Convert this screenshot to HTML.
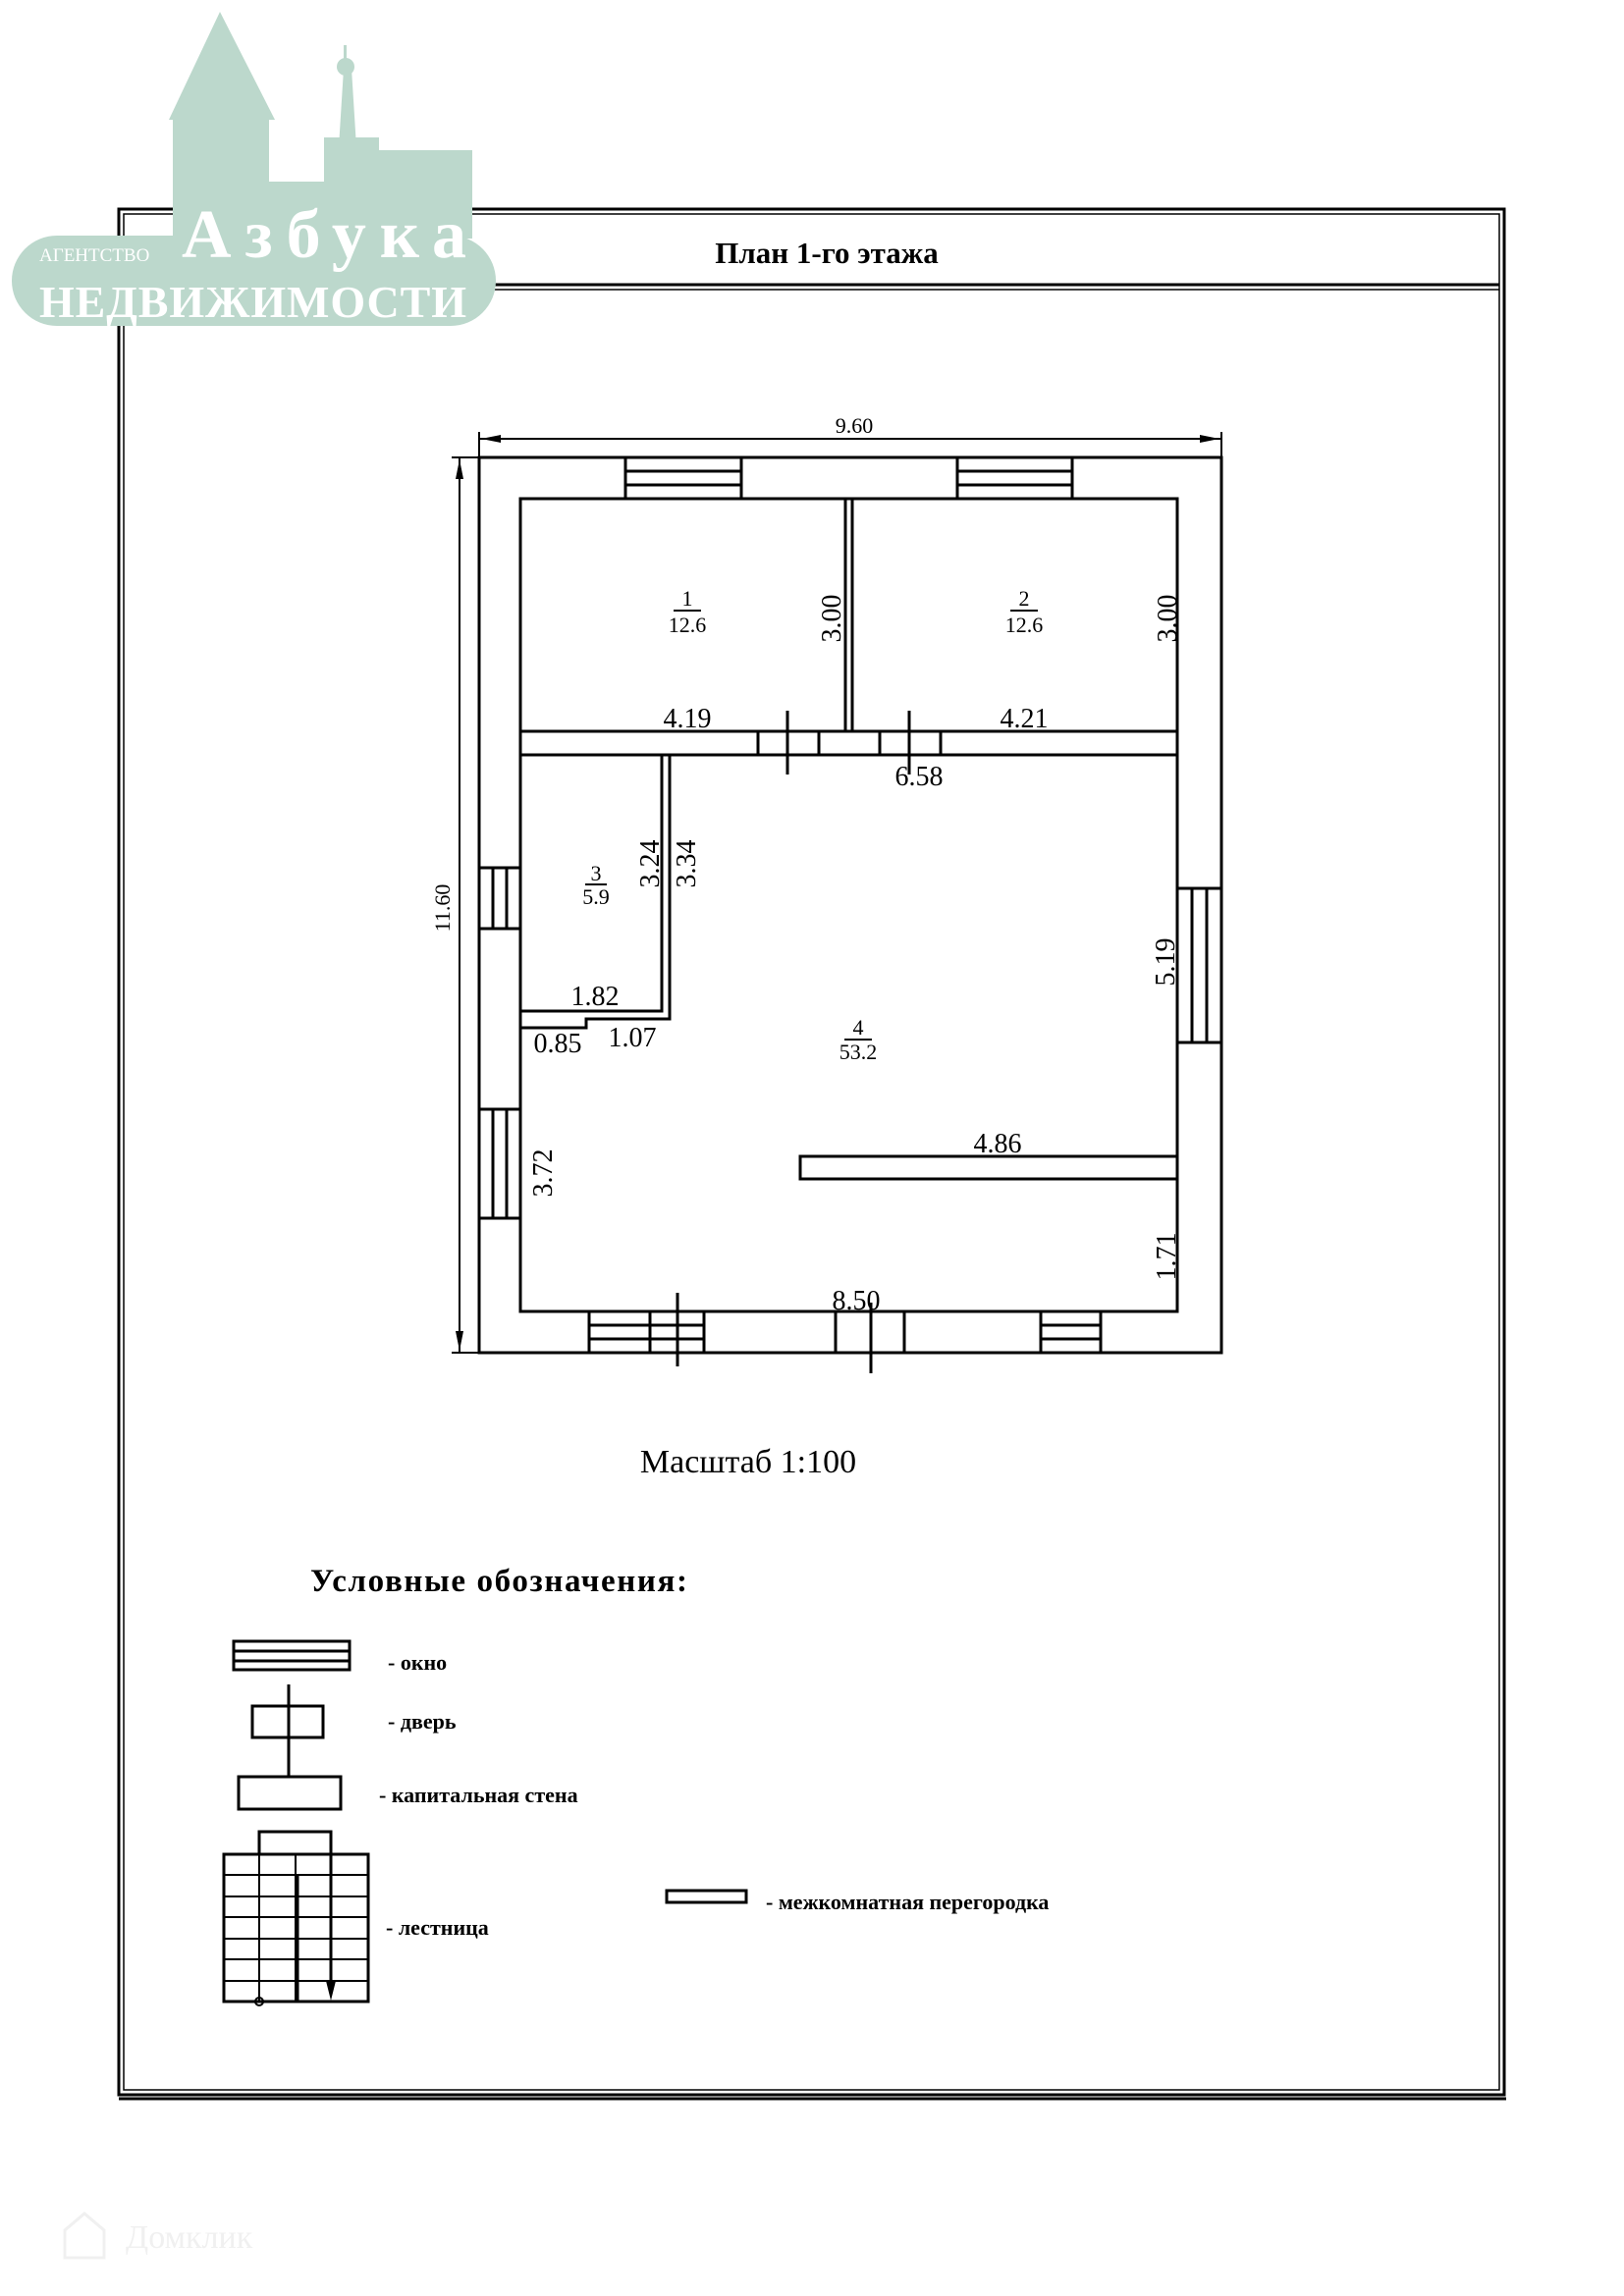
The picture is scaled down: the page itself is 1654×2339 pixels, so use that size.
<!DOCTYPE html>
<html><head><meta charset="utf-8"><style>
html,body{margin:0;padding:0;background:#fff;}
svg{display:block;}
text{font-family:"Liberation Serif",serif;fill:#000;}
</style></head><body>
<svg width="1654" height="2339" viewBox="0 0 1654 2339" xmlns="http://www.w3.org/2000/svg">
<rect width="1654" height="2339" fill="#fff"/>
<g fill="none" stroke="#000">
<rect x="121" y="213" width="1411" height="1921" stroke-width="3"/>
<rect x="126" y="218" width="1401" height="1911" stroke-width="1.5"/>
<line x1="126" y1="290" x2="1527" y2="290" stroke-width="3"/>
<line x1="126" y1="295" x2="1527" y2="295" stroke-width="1.5"/>
<line x1="121" y1="2138" x2="1534" y2="2138" stroke-width="3"/>
</g>
<g fill="#bcd8cc">
<rect x="12" y="240" width="493" height="92" rx="46"/>
<polygon points="224,12 172,122 280,122"/>
<rect x="176" y="118" width="98" height="125"/>
<rect x="270" y="185" width="120" height="58"/>
<polygon points="345,150 350,70 358,70 363,150"/>
<circle cx="352" cy="68" r="9"/>
<rect x="350" y="46" width="3" height="16"/>
<rect x="330" y="140" width="56" height="60"/>
<rect x="385" y="153" width="96" height="90"/>
</g>
<text x="40" y="266" font-family="Liberation Sans,sans-serif" font-size="19" style="fill:#fff">АГЕНТСТВО</text>
<text x="185" y="262" font-size="70" font-weight="bold" style="fill:#fff" textLength="290">Азбука</text>
<text x="40" y="323" font-size="46" font-weight="bold" style="fill:#fff" textLength="435">НЕДВИЖИМОСТИ</text>

<text x="842" y="268" font-size="31" font-weight="bold" text-anchor="middle">План 1-го этажа</text>

<g fill="none" stroke="#000" stroke-width="3">
<rect x="488" y="466" width="756" height="912"/>
<rect x="530" y="508" width="669" height="828"/>
<line x1="530" y1="745" x2="1199" y2="745"/>
<line x1="530" y1="769" x2="1199" y2="769"/>
<line x1="772" y1="745" x2="772" y2="769"/>
<line x1="834" y1="745" x2="834" y2="769"/>
<line x1="896" y1="745" x2="896" y2="769"/>
<line x1="958" y1="745" x2="958" y2="769"/>
<line x1="802" y1="724" x2="802" y2="789"/>
<line x1="926" y1="724" x2="926" y2="789"/>
<line x1="861" y1="508" x2="861" y2="745"/>
<line x1="868" y1="508" x2="868" y2="745"/>
<polyline points="674,769 674,1030 530,1030"/>
<polyline points="682,769 682,1038 597,1038 597,1047 530,1047"/>
<rect x="815" y="1178" width="384" height="23"/>
<rect x="637" y="466" width="118" height="42"/>
<line x1="637" y1="480" x2="755" y2="480"/><line x1="637" y1="494" x2="755" y2="494"/>
<rect x="975" y="466" width="117" height="42"/>
<line x1="975" y1="480" x2="1092" y2="480"/><line x1="975" y1="494" x2="1092" y2="494"/>
<rect x="488" y="884" width="42" height="62"/>
<line x1="502" y1="884" x2="502" y2="946"/><line x1="516" y1="884" x2="516" y2="946"/>
<rect x="488" y="1130" width="42" height="111"/>
<line x1="502" y1="1130" x2="502" y2="1241"/><line x1="516" y1="1130" x2="516" y2="1241"/>
<rect x="1199" y="905" width="45" height="157"/>
<line x1="1214" y1="905" x2="1214" y2="1062"/><line x1="1229" y1="905" x2="1229" y2="1062"/>
<rect x="600" y="1336" width="117" height="42"/>
<line x1="600" y1="1350" x2="717" y2="1350"/><line x1="600" y1="1364" x2="717" y2="1364"/>
<line x1="662" y1="1336" x2="662" y2="1378"/>
<line x1="690" y1="1317" x2="690" y2="1392"/>
<line x1="851" y1="1336" x2="851" y2="1378"/>
<line x1="921" y1="1336" x2="921" y2="1378"/>
<line x1="887" y1="1327" x2="887" y2="1399"/>
<rect x="1060" y="1336" width="61" height="42"/>
<line x1="1060" y1="1350" x2="1121" y2="1350"/><line x1="1060" y1="1364" x2="1121" y2="1364"/>
</g>
<g stroke="#000" stroke-width="2" fill="none">
<line x1="488" y1="447" x2="1244" y2="447"/>
<line x1="488" y1="440" x2="488" y2="466"/><line x1="1244" y1="440" x2="1244" y2="466"/>
<line x1="468" y1="466" x2="468" y2="1378"/>
<line x1="460" y1="466" x2="488" y2="466"/><line x1="460" y1="1378" x2="488" y2="1378"/>
</g>
<g fill="#000">
<polygon points="490,447 510,443 510,451"/>
<polygon points="1242,447 1222,443 1222,451"/>
<polygon points="468,468 464,488 472,488"/>
<polygon points="468,1376 464,1356 472,1356"/>
</g>
<g font-size="22" text-anchor="middle">
<text x="870" y="441">9.60</text>
<text transform="translate(458,925) rotate(-90)">11.60</text>
</g>
<g font-size="28" text-anchor="middle">
<text x="700" y="617" font-size="22">1</text>
<line x1="686" y1="622" x2="714" y2="622" stroke="#000" stroke-width="2"/>
<text x="700" y="644" font-size="22">12.6</text>
<text x="1043" y="617" font-size="22">2</text>
<line x1="1029" y1="622" x2="1057" y2="622" stroke="#000" stroke-width="2"/>
<text x="1043" y="644" font-size="22">12.6</text>
<text transform="translate(856,630) rotate(-90)">3.00</text>
<text transform="translate(1198,630) rotate(-90)">3.00</text>
<text x="700" y="741">4.19</text>
<text x="1043" y="741">4.21</text>
<text x="936" y="800">6.58</text>
<text x="607" y="897" font-size="22">3</text>
<line x1="596" y1="901" x2="618" y2="901" stroke="#000" stroke-width="2"/>
<text x="607" y="921" font-size="22">5.9</text>
<text transform="translate(671,880) rotate(-90)">3.24</text>
<text transform="translate(708,880) rotate(-90)">3.34</text>
<text x="606" y="1024">1.82</text>
<text x="568" y="1072">0.85</text>
<text x="644" y="1066">1.07</text>
<text transform="translate(1196,980) rotate(-90)">5.19</text>
<text x="874" y="1054" font-size="22">4</text>
<line x1="860" y1="1059" x2="888" y2="1059" stroke="#000" stroke-width="2"/>
<text x="874" y="1079" font-size="22">53.2</text>
<text x="1016" y="1174">4.86</text>
<text transform="translate(562,1195) rotate(-90)">3.72</text>
<text transform="translate(1197,1280) rotate(-90)">1.71</text>
<text x="872" y="1334">8.50</text>
</g>
<text x="762" y="1500" font-size="34" text-anchor="middle">Масштаб 1:100</text>
<text x="316" y="1621" font-size="33" font-weight="bold" textLength="384">Условные обозначения:</text>
<g fill="none" stroke="#000" stroke-width="3">
<rect x="238" y="1672" width="118" height="29"/>
<line x1="238" y1="1682" x2="356" y2="1682"/><line x1="238" y1="1692" x2="356" y2="1692"/>
<rect x="257" y="1738" width="72" height="32"/>
<line x1="294" y1="1716" x2="294" y2="1811"/>
<rect x="243" y="1810" width="104" height="33"/>
<rect x="228" y="1889" width="147" height="150"/>
<polyline points="264,1889 264,1866 337,1866 337,2032"/>
<line x1="264" y1="1889" x2="264" y2="2039" stroke-width="2"/>
<line x1="301" y1="1889" x2="301" y2="2039" stroke-width="2"/>
<line x1="303" y1="1911" x2="303" y2="2039" stroke-width="3"/>
<line x1="228" y1="1910" x2="375" y2="1910" stroke-width="2"/>
<line x1="228" y1="1932" x2="375" y2="1932" stroke-width="2"/>
<line x1="228" y1="1953" x2="375" y2="1953" stroke-width="2"/>
<line x1="228" y1="1975" x2="375" y2="1975" stroke-width="2"/>
<line x1="228" y1="1996" x2="375" y2="1996" stroke-width="2"/>
<line x1="228" y1="2018" x2="375" y2="2018" stroke-width="2"/>
<circle cx="264" cy="2039" r="4" stroke-width="2"/>
<rect x="679" y="1926" width="81" height="12"/>
</g>
<polygon points="332,2018 342,2018 337,2038" fill="#000"/>
<g font-size="22" font-weight="bold">
<text x="395" y="1713" dy="-12">- окно</text>
<text x="395" y="1773" dy="-12">- дверь</text>
<text x="386" y="1848" dy="-12">- капитальная стена</text>
<text x="393" y="1983" dy="-12">- лестница</text>
<text x="780" y="1957" dy="-12">- межкомнатная перегородка</text>
</g>
<text x="128" y="2290" font-family="Liberation Sans,sans-serif" font-size="34" style="fill:#f0f0f0">Домклик</text>
<path d="M66 2300 L66 2272 L86 2255 L106 2272 L106 2300 Z" fill="none" stroke="#f0f0f0" stroke-width="3"/>
</svg>
</body></html>
